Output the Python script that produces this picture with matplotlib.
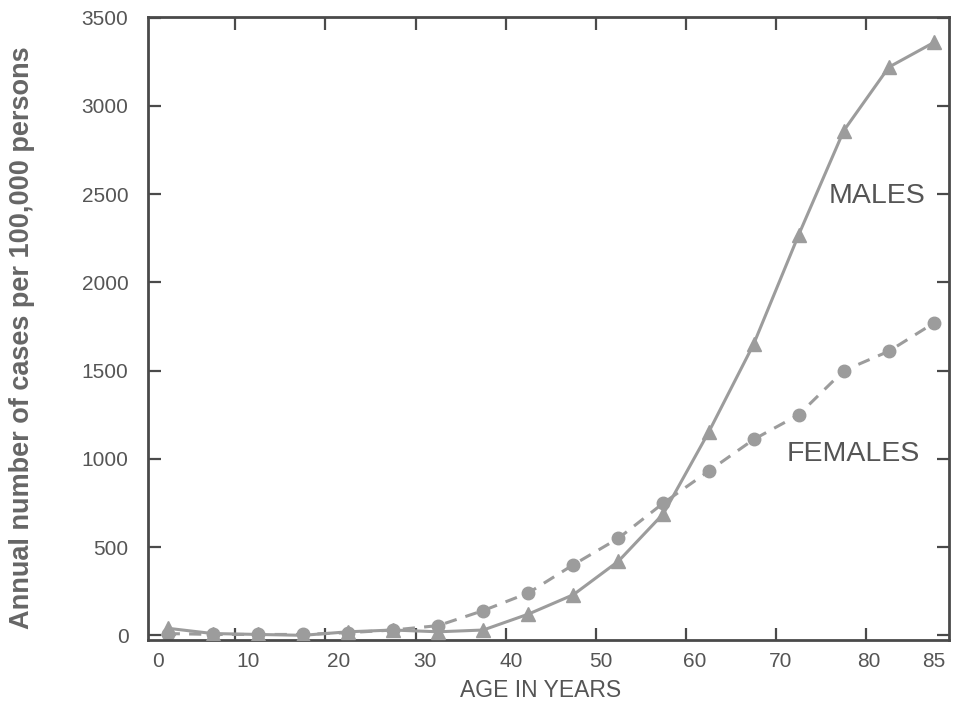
import matplotlib
matplotlib.use('Agg')
import matplotlib.pyplot as plt

plt.rcParams['font.family'] = ['Liberation Sans', 'DejaVu Sans']

# age groups (midpoints) and annual cases per 100,000
ages = [2.5, 7.5, 12.5, 17.5, 22.5, 27.5, 32.5, 37.5, 42.5,
        47.5, 52.5, 57.5, 62.5, 67.5, 72.5, 77.5, 82.5, 87.5]
males = [40, 10, 5, 0, 20, 30, 20, 30, 120,
         230, 420, 690, 1150, 1650, 2270, 2860, 3220, 3360]
females = [10, 5, 5, 5, 15, 30, 55, 140, 240,
           400, 550, 750, 930, 1110, 1250, 1500, 1610, 1770]

x_ticks = [10, 20, 30, 40, 50, 60, 70, 80]
x_label_pos = [1.4, 11.4, 21.5, 31.0, 40.6, 50.5, 61.0, 70.5, 80.3, 87.5]
x_labels = ['0', '10', '20', '30', '40', '50', '60', '70', '80', '85']
y_ticks = [0, 500, 1000, 1500, 2000, 2500, 3000, 3500]

line_col = '#9c9c9c'
axis_col = '#4a4a4a'
text_col = '#555555'

fig = plt.figure(figsize=(9.54, 7.03), dpi=100)
ax = fig.add_axes([0.155, 0.09, 0.84, 0.886])

ax.plot(ages, females, '--', color=line_col, lw=2.2, marker='o', ms=9,
        mfc=line_col, mec=line_col, dashes=(4, 3), zorder=2)
ax.plot(ages, males, '-', color=line_col, lw=2.2, marker='^', ms=10,
        mfc=line_col, mec=line_col, zorder=3)

ax.set_xlim(0.3, 89.2)
ax.set_ylim(-25, 3505)

# tick marks
ax.set_xticks(x_ticks)
ax.set_xticklabels([])
ax.set_yticks(y_ticks, [str(v) for v in y_ticks])
ax.tick_params(axis='both', which='major', direction='in', length=9, width=1.6,
               color=axis_col, top=True, right=True, labelsize=15,
               labelcolor=text_col)
ax.tick_params(axis='y', which='major', pad=14)

# x labels sit a little off the marks, as in the print
ax.set_xticks(x_label_pos, x_labels, minor=True)
ax.tick_params(axis='x', which='minor', length=0, labelsize=15,
               labelcolor=text_col, pad=9)

for s in ax.spines.values():
    s.set_color(axis_col)
    s.set_linewidth(2)

ax.text(86.6, 2490, 'MALES', ha='right', va='center', fontsize=20.5, color=text_col)
ax.text(85.9, 1025, 'FEMALES', ha='right', va='center', fontsize=20.5, color=text_col)

fig.text(0.567, 0.018, 'AGE IN YEARS', ha='center', va='center',
         fontsize=16.5, color=text_col)
fig.text(0.023, 0.52, 'Annual number of cases per 100,000 persons', rotation=90,
         ha='center', va='center', fontsize=19.5, fontweight='bold', color='#666666')

fig.savefig('out.png', dpi=100)
